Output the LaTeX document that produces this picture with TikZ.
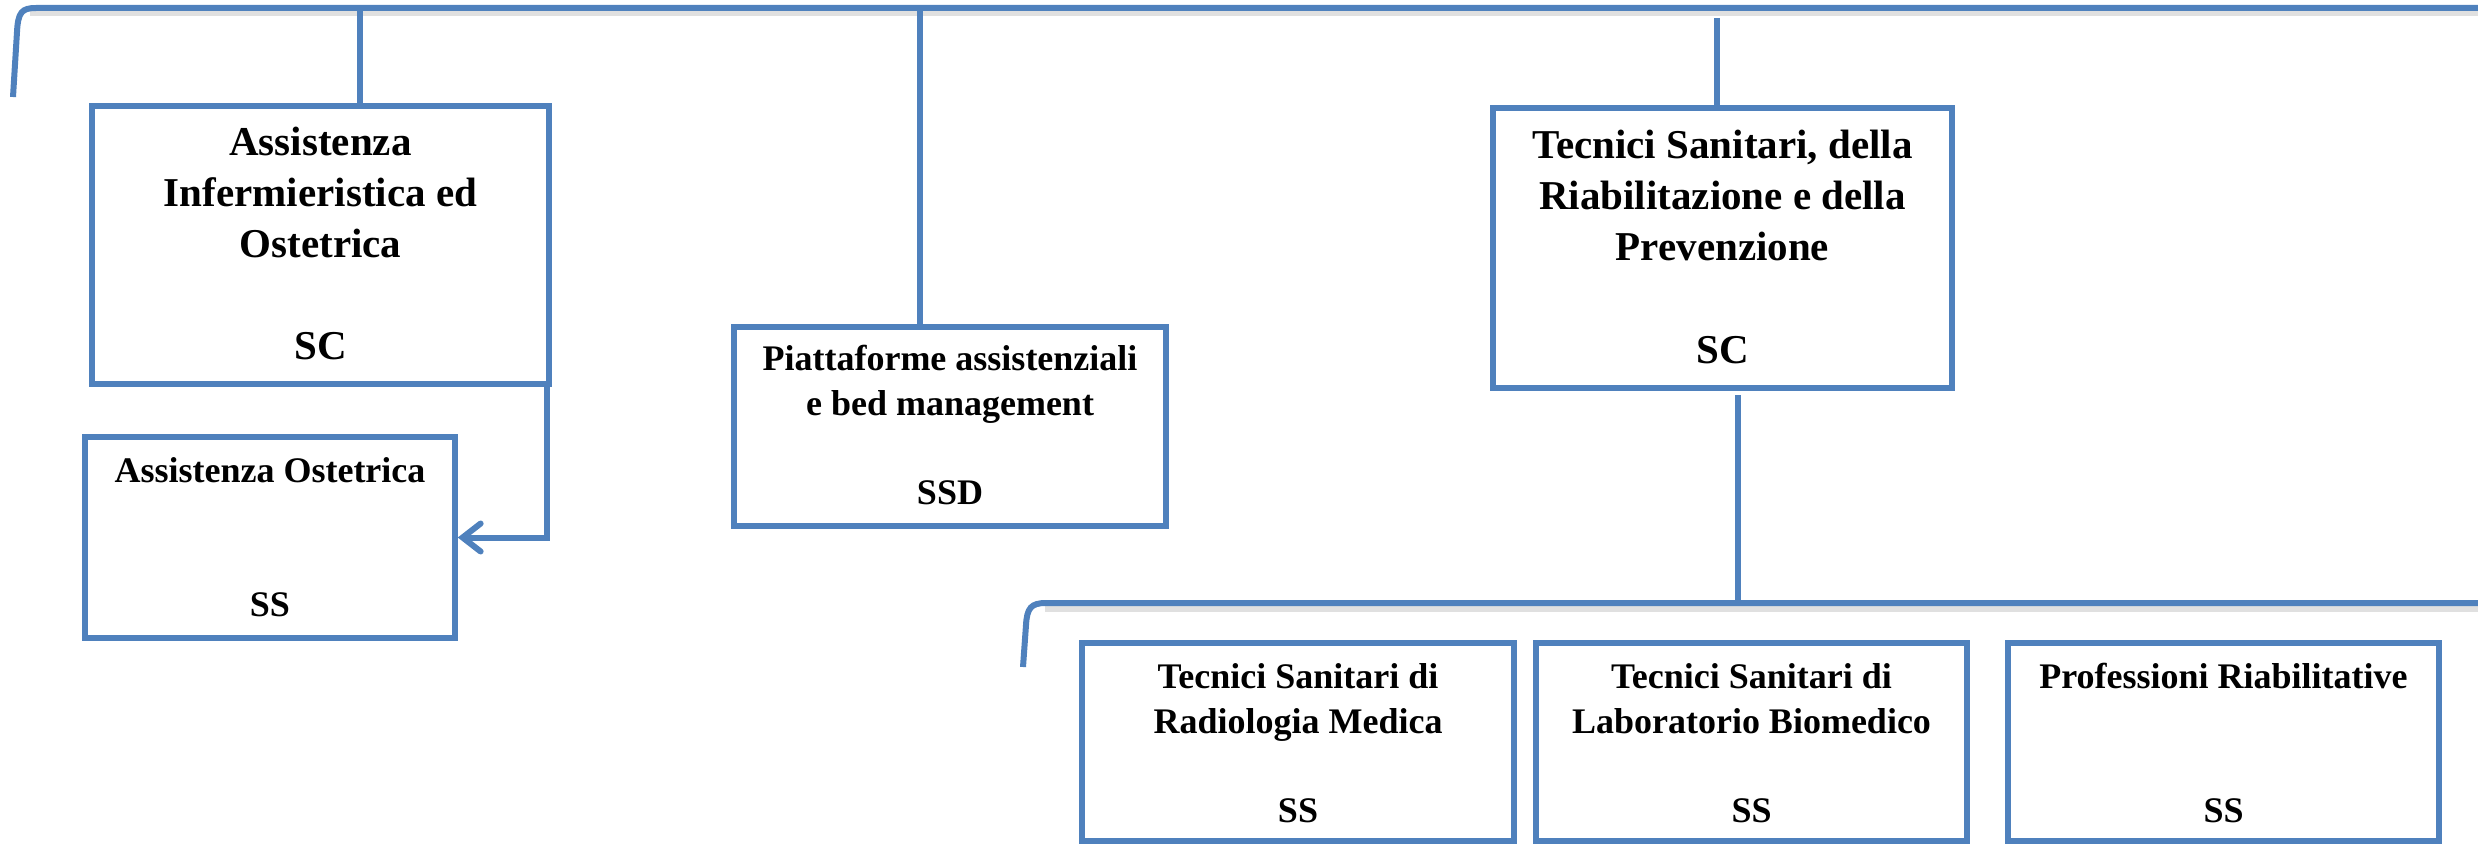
\documentclass[tikz,border=0pt]{standalone}
\usepackage{fontspec}
\setmainfont{Liberation Serif}
\usetikzlibrary{arrows.meta}
\definecolor{obl}{RGB}{79,129,189}
\tikzset{
  box/.style={draw=obl, line width=5.5pt, inner sep=0pt, fill=white},
  conn/.style={draw=obl, line width=6pt},
  shad/.style={draw=black!35, line width=7pt, opacity=0.35},
  bigt/.style={font=\fontsize{41}{51}\selectfont\bfseries, align=center, inner sep=0pt},
  smt/.style={font=\fontsize{36}{45}\selectfont\bfseries, align=center, inner sep=0pt}
}
\begin{document}
\begin{tikzpicture}[x=1pt,y=-1pt]
\useasboundingbox (0,0) rectangle (2478,843);
% coordinates of bar points
\coordinate (tl) at (13,97);
\coordinate (bar1) at (360,8);
\coordinate (bar3) at (920,8);
\coordinate (bar4) at (1717,18);
\coordinate (tr) at (2478,8);
\coordinate (sl) at (1023,667);
\coordinate (sr) at (2478,603);
% shadows
\draw[shad] (30,13) -- (2478,13);
\draw[shad] (1045,608) -- (2478,608);
% top bracket
\draw[conn] (tl) -- (17,32) .. controls (18,12) and (22,8) .. (36,8) -- (tr);
% boxes
\node[box, minimum width=457pt, minimum height=278pt] (b1) at (320.5,245) {};
\node[box, minimum width=370pt, minimum height=201pt] (b2) at (270,537.5) {};
\node[box, minimum width=432pt, minimum height=199pt] (b3) at (950,426.5) {};
\node[box, minimum width=459pt, minimum height=280pt] (b4) at (1722.5,248) {};
\node[box, minimum width=432pt, minimum height=198pt] (b5) at (1298,742) {};
\node[box, minimum width=431pt, minimum height=198pt] (b6) at (1751.5,742) {};
\node[box, minimum width=431pt, minimum height=198pt] (b7) at (2223.5,742) {};
% droppers
\draw[conn] (bar1) -- (bar1 |- b1.north);
\draw[conn] (bar3) -- (bar3 |- b3.north);
\draw[conn] (bar4) -- (bar4 |- b4.north);
\coordinate (b4o) at (1738,395);
\coordinate (b4e) at (1738,603);
\draw[conn] (b4o) -- (b4e);
% second bracket
\draw[conn] (sl) -- (1026,625) .. controls (1027,608) and (1031,603) .. (1046,603) -- (sr);
% arrow from b1 to b2
\coordinate (a1) at (546.5,384);
\draw[conn, -{Straight Barb[length=18pt,width=28pt,line cap=round]}] (a1) |- (b2.east);
% texts
\node[bigt, anchor=north] (t1) at (320.5,127) {Assistenza\\Infermieristica ed\\Ostetrica};
\node[bigt, anchor=base] (c1) at (320.5,359) {SC};
\node[smt, anchor=base] (t2) at (270,482) {Assistenza Ostetrica};
\node[smt, anchor=base] (c2) at (270,616) {SS};
\node[smt, anchor=north] (t3) at (950,345) {Piattaforme assistenziali\\e bed management};
\node[smt, anchor=base] (c3) at (950,504) {SSD};
\node[bigt, anchor=north] (t4) at (1722.5,130) {Tecnici Sanitari, della\\Riabilitazione e della\\Prevenzione};
\node[bigt, anchor=base] (c4) at (1722.5,363) {SC};
\node[smt, anchor=north] (t5) at (1298,663) {Tecnici Sanitari di\\Radiologia Medica};
\node[smt, anchor=base] (c5) at (1298,822) {SS};
\node[smt, anchor=north] (t6) at (1751.5,663) {Tecnici Sanitari di\\Laboratorio Biomedico};
\node[smt, anchor=base] (c6) at (1751.5,822) {SS};
\node[smt, anchor=base] (t7) at (2223.5,688) {Professioni Riabilitative};
\node[smt, anchor=base] (c7) at (2223.5,822) {SS};
\end{tikzpicture}
\end{document}
